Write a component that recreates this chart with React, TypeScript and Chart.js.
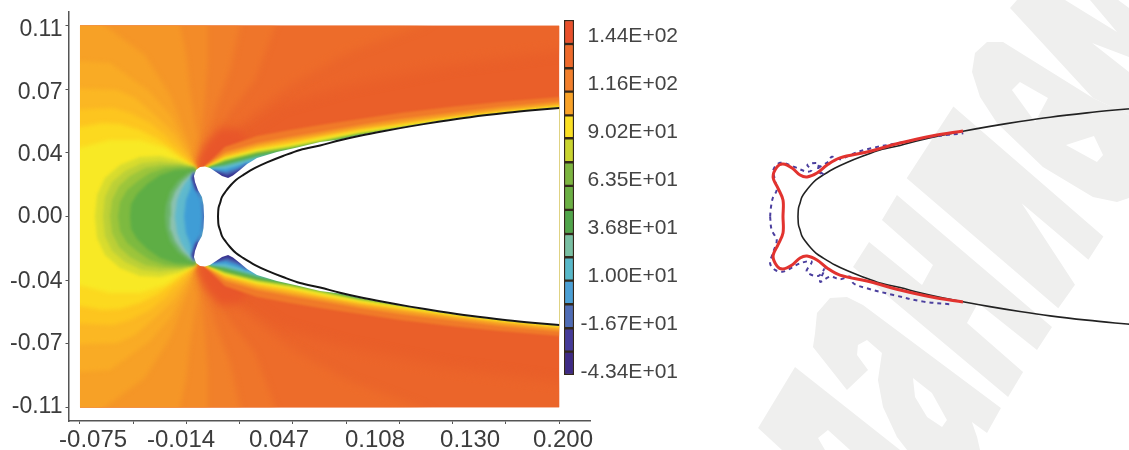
import React, { useEffect, useRef } from "react";
import { Chart, registerables } from "chart.js";

// Per-dataset softness: registered before the Filler so that fills pick it up too.
Chart.register({
  id: "softness",
  beforeDatasetDraw(c: any, args: any) {
    const b = c.data.datasets[args.index].blur;
    c.ctx.filter = b ? `blur(${b}px)` : "none";
  },
  afterDatasetDraw(c: any) { c.ctx.filter = "none"; },
} as any);
Chart.register(...registerables);

type Pt = number[];
const FONT = "'Liberation Sans', Arial, sans-serif";

// Axis ticks (flow coordinates, in mm; the labels read in metres as printed)
const xMarks = [-75, -44.4, -13.9, 16.7, 47.2, 77.8, 108.3, 138.9, 169.4, 200];
const xLabelAt = [-67.5, -17, 39.2, 94.3, 148.9, 202.2];
const xLabels = ["-0.075", "-0.014", "0.047", "0.108", "0.130", "0.200"];
const yMarks = [110, 73.3, 36.7, 0, -36.7, -73.3, -110];
const yLabelAt = [107.6, 71.3, 35.5, 0, -37.8, -73.3, -110];
const yLabels = ["0.11", "0.07", "0.04", "0.00", "-0.04", "-0.07", "-0.11"];

// Colour bar
const levelEdges = [152.9, 139.5, 126, 112.9, 99.7, 86.9, 73.5, 60.3, 46.9, 33.5, 20.5, 7.5, -5.7, -19.1, -32.2, -45.2];
const levelColors = ["#E9502B", "#EE6A2B", "#F27F2C", "#F9A227", "#FBE024", "#C9D42F", "#7CB540", "#6BB044", "#50A54B", "#79BFA3", "#58B8C9", "#4B9FD5", "#4F6CB5", "#453B99", "#3E2A85"];
const barTickValues = [144, 117.2, 90.2, 63.5, 36.8, 10, -16.7, -43.4];
const barTickLabels = ["1.44E+02", "1.16E+02", "9.02E+01", "6.35E+01", "3.68E+01", "1.00E+01", "-1.67E+01", "-4.34E+01"];

// Field: upper halves of contour regions (mirrored about y = 0), outermost first
const domain: Pt[] = [[208, 118], [-85, 118]];
const fan0: Pt[] = [[-9, 28.3], [5.4, 41.3], [39.8, 64.3], [80, 75.9], [137.4, 87.4], [208, 97], [208, 118], [-85, 118]];
const fan1: Pt[] = [[-9, 28.3], [2.5, 40.1], [19.7, 55.7], [45.5, 75.9], [80, 95], [120, 110], [132, 118], [-85, 118]];
const fan2: Pt[] = [[-9, 28.3], [-0.4, 41.3], [11.1, 60.3], [25.5, 78.8], [37, 110], [40, 118], [-85, 118]];
const fan3: Pt[] = [[-9, 28.3], [-3.3, 41.3], [2.5, 61.4], [11.1, 84.5], [16.8, 110], [18, 118], [-85, 118]];
const fan4: Pt[] = [[-9, 28.3], [-5.5, 44], [-3.3, 67.2], [-1.5, 90.3], [-1.5, 118], [-85, 118]];
const fan5: Pt[] = [[-9, 28.3], [-7.8, 47], [-11.9, 73], [-14, 93], [-17.6, 110], [-19, 118], [-85, 118]];
const fan6: Pt[] = [[-9, 28.3], [-11.9, 41.3], [-23.3, 70], [-37.7, 93], [-60.7, 110], [-72, 118], [-85, 118]];
const fan7: Pt[] = [[-9, 28.3], [-13.6, 40.1], [-23.3, 58.6], [-34.8, 71.8], [-57.8, 88.6], [-85, 90.3]];
const fan8: Pt[] = [[-9, 28.3], [-13.6, 36.6], [-20.5, 47], [-30.8, 57.4], [-43.4, 68.4], [-53.8, 73], [-85, 74.1]];
const fan9: Pt[] = [[-9, 28.3], [-17.6, 38.4], [-26.2, 47], [-34.8, 54], [-46.3, 59.7], [-56, 62.6], [-85, 61.4]];
const fan10: Pt[] = [[-9, 28.3], [-14.7, 32.6], [-21.6, 38.4], [-30.2, 44.7], [-40.6, 49.9], [-52, 53.4], [-61.8, 54], [-85, 49.9]];
const fan11: Pt[] = [[-9, 28.3], [-14.7, 31.4], [-26.2, 39.5], [-40.6, 44.1], [-57.8, 44.1], [-85, 37.2]];
const fans = [fan0, fan1, fan2, fan3, fan4, fan5, fan6, fan7, fan8, fan9, fan10, fan11];
const fanColors = ["#EB652A", "#ED6C2A", "#EF752A", "#F1802A", "#F38B28", "#F59627", "#F7A126", "#F9AB25", "#FBB723", "#FDC51F", "#FCD91F", "#F8E925"];
const fanSoftness = [6, 5, 3, 3, 2.5, 2.5, 2.5, 2, 2, 2, 2, 2];

// Bow regions: each closes behind the white gap, on the axis.
const arc1: Pt[] = [[-66.4, 0], [-65.2, 12.4], [-60.7, 22.2], [-52, 29.7], [-40.6, 34.3], [-29, 34.9], [-18.8, 32.6], [-9, 28.6], [-2, 0]];
const arc2: Pt[] = [[-61.8, 0], [-60.7, 11.3], [-56.6, 19.9], [-49.2, 26.3], [-39.4, 30.9], [-29, 32], [-18.8, 30.9], [-9, 28], [-2, 0]];
const arc3: Pt[] = [[-57.8, 0], [-56.6, 9.5], [-52.6, 17.6], [-46.3, 23.4], [-37.7, 28], [-28, 29.7], [-17.6, 29.7], [-9, 28], [-2, 0]];
const arc4: Pt[] = [[-53.2, 0], [-52, 8.4], [-48, 15.3], [-41.7, 20.5], [-34.8, 25.1], [-26.2, 28], [-16.5, 28.6], [-9, 27.8], [-2, 0]];
const arc5: Pt[] = [[-46.3, 0], [-45.7, 7.2], [-42.3, 13], [-36.5, 18.8], [-29, 23.9], [-20.5, 26.8], [-9, 27.5], [-2, 0]];
const arc6: Pt[] = [[-26.2, 0], [-25.6, 6.6], [-23.3, 14.1], [-18.8, 20.5], [-13, 25.1], [-9, 27], [-2, 0]];
const arc7: Pt[] = [[-23.3, 0], [-22.8, 7.8], [-20.5, 14.1], [-16.5, 19.9], [-11.9, 23.9], [-9, 26], [-2, 0]];
const arc8: Pt[] = [[-20.5, 0], [-19.3, 9.5], [-17, 15.3], [-14.2, 19.9], [-10.7, 23.9], [-9, 25.5], [-2, 0]];
const arc9: Pt[] = [[-15.3, 0], [-14.2, 9.5], [-11.9, 15.3], [-10.1, 22.2], [-9.2, 25], [-2, 0]];
const arc10: Pt[] = [[-4.6, 0], [-5.4, 9.5], [-9.6, 16.4], [-11.3, 22.2], [-10.1, 25.7], [-2, 0]];
const arcs = [arc1, arc2, arc3, arc4, arc5, arc6, arc7, arc8, arc9, arc10];
const arcColors = ["#D8DC2E", "#BCD037", "#9CC53B", "#7DBA40", "#5EAE45", "#6DB46B", "#8CC2B0", "#5FB9CD", "#3F9DD6", "#4A6DB6"];

const hotStreak: Pt[] = [[-8.4, 28.6], [-3.3, 41.3], [5.4, 51], [16.8, 50], [22.6, 39.5], [2.5, 29.7]];
const edgeNavy: Pt[] = [[-9.6, 25.7], [-10.7, 22.2], [-8.4, 15.3], [-6.7, 14.1], [-8, 22]];

// Shear-layer regions start behind the white gap, on the axis.
const shear1: Pt[] = [[3, 0], [-3.3, 29], [8.2, 40.1], [26.6, 46.4], [45.5, 49.9], [62.8, 52.8], [85.7, 56.3], [108.7, 59.7], [137.4, 63.2], [166.1, 66], [208, 69.6]];
const shear2: Pt[] = [[3, 0], [-3.3, 28.9], [8.2, 37.2], [26.6, 42.4], [45.5, 45.9], [62.8, 48.8], [85.7, 52.8], [108.7, 56.3], [137.4, 59.7], [166.1, 63.2], [208, 67]];
const shear3: Pt[] = [[3, 0], [-3.3, 28.6], [8.2, 35.5], [26.6, 40.7], [45.5, 44.1], [62.8, 47], [85.7, 51.1], [108.7, 54.2], [137.4, 58], [166.1, 61.4], [208, 65.5]];
const shear4: Pt[] = [[3, 0], [-2.7, 28.3], [8.2, 34], [26.6, 38.9], [45.5, 42.1], [62.8, 45.6], [85.7, 49.6], [108.7, 52.8], [137.4, 56.8], [166.1, 60.3], [208, 64.4]];
const shear5: Pt[] = [[3, 0], [-2.1, 28.3], [8.2, 33.2], [26.6, 37.8], [45.5, 40.7], [62.8, 44.1], [85.7, 48.5], [108.7, 51.6], [137.4, 56], [166.1, 59.4], [208, 63.5]];
const shear6: Pt[] = [[3, 0], [-1.5, 28.3], [8.2, 32], [26.6, 36.6], [45.5, 39.5], [62.8, 43], [85.7, 47.6], [108.7, 51.1], [137.4, 55.1], [166.1, 58.9], [208, 62.9]];
const shear7: Pt[] = [[3, 0], [-1, 28], [8.2, 30.3], [26.6, 35.2], [45.5, 38.4], [62.8, 42.1], [85.7, 47]];
const shear8: Pt[] = [[3, 0], [-0.4, 28], [8.2, 29.1], [16.8, 31.4], [26.6, 34], [45.5, 37.8], [62.8, 41.3]];
const shear9: Pt[] = [[3, 0], [0.2, 27.4], [8.2, 27.4], [16.8, 29.7], [26.6, 33.2]];
const shear10: Pt[] = [[3, 0], [0.8, 26.8], [8.8, 25.7], [15.7, 28], [20.9, 31]];
const shear11: Pt[] = [[3, 0], [1.9, 26.3], [9.4, 23.9], [14, 25.7], [18, 27.7]];
const shears = [shear1, shear2, shear3, shear4, shear5, shear6, shear7, shear8, shear9, shear10, shear11];
const shearColors = ["#F07A29", "#F59A26", "#FBBD20", "#F8E625", "#C3D52F", "#5EAE45", "#58B47A", "#5FB9CD", "#3F9DD6", "#4A6DB6", "#3A3491"];

const voidUpper: Pt[] = [[-3.8, 0], [-4.1, 6.6], [-5, 11.3], [-7.3, 15.3], [-9, 19.9], [-9.6, 23.4], [-8.4, 26.8], [-6.1, 28.6], [-3.3, 28.9], [-0.4, 28], [3.1, 25.7], [6.5, 23.4], [10, 22.2], [12.8, 23.7], [16.8, 26.8], [20.9, 30.3], [26.6, 33.8], [38, 37.2], [49.6, 39.8], [62.8, 43], [74.2, 44.5], [85.7, 47], [98.9, 49.6], [114.4, 52.4], [131.6, 55.2], [148.9, 57.7], [170.1, 60.2], [186.2, 61.8], [208, 63.6]];
const bodyUpper: Pt[] = [[4.2, 0], [4.5, 4.9], [5.4, 7.8], [6.5, 11.3], [8.8, 14.7], [11.1, 17.6], [14.5, 21.1], [18.6, 23.9], [25.5, 28], [32.3, 31.2], [41.5, 34.9], [51.3, 38.4], [62.8, 41], [74.2, 44], [85.7, 46.6], [98.9, 49.2], [114.4, 52], [131.6, 54.8], [148.9, 57.3], [170.1, 59.8], [186.2, 61.4], [200, 62.6], [206, 63.2]];

// Right panel: measured shock outlines
const redUpper: Pt[] = [[-4.4, 0], [-4.4, 9.5], [-7.3, 16.4], [-10.1, 22.8], [-7.8, 28.6], [-4.4, 30.3], [0.8, 28], [5.4, 23.9], [9.4, 22.8], [15.1, 25.1], [20.9, 29.7], [28.3, 33.8], [43.8, 37.2], [62.8, 42.4], [81.7, 46.6], [98.9, 49.3]];
const dashedUpper: Pt[] = [[-11.8, -0.1], [-11.4, 4.7], [-10.3, 10.5], [-8, 15.3], [-9, 21], [-9.9, 26.9], [-6.1, 31], [1.6, 28.8], [9.2, 25.9], [12.1, 26.9], [9.6, 29.7], [15.9, 30.7], [15.9, 26.9], [19.2, 24], [15, 26.9], [21.7, 31.7], [23.6, 34.5], [28.4, 33], [34.1, 35.5], [43.7, 38.8], [62.8, 42.6], [81.9, 46.1], [99.1, 48]];
const dashedLower: Pt[] = [[-11.8, -0.1], [-10.9, -7.8], [-8, -13.5], [-9.9, -20.3], [-11.8, -27], [-9, -30.8], [-4.2, -31.8], [5.4, -27], [12.1, -26], [9.2, -31.8], [15.9, -34.3], [19.7, -29.9], [16.9, -37.6], [22.6, -34.7], [28.4, -36.2], [34.1, -34.7], [36, -38.5], [43.7, -41.4], [59, -45.3], [76.2, -49.1], [91.5, -50.6]];

// Watermark letters behind the right panel
const wmA: Pt[] = [[-18.7, -122], [2.5, -86.8], [62.8, -134.7], [-5, -134.7]];
const wmB: Pt[] = [[14, -67.2], [15.1, -55.7], [22.6, -47], [32.3, -46.4], [41.5, -51], [120.7, -110.5], [112.7, -124.9], [104, -118.6], [107, -127.2], [108.7, -134.7], [66.8, -134.7], [61, -127.2], [53, -109.9], [50.1, -94.3], [52.4, -78.8], [43.8, -71.3], [38.6, -74.1], [38.1, -79.9], [44.4, -88.6], [32.3, -100.1], [12.8, -75.3]];
const wmC: Pt[] = [[35.8, -29.1], [45, -14.7], [75.4, -39.5], [81.7, -28], [52.4, -2], [61, 12.4], [150, -63.8], [141.4, -77], [107.5, -49.9], [101.2, -61.4], [133.4, -89.7], [124.8, -104.1]];
const wmE: Pt[] = [[66.6, 22], [93.4, 63.5], [179.5, -11.5], [170.9, -25], [132.6, 7.7], [163.2, -39.4], [153.6, -52.9]];
const wmF: Pt[] = [[104.1, 83.4], [105.8, 94.3], [112.7, 100.7], [121.9, 100.7], [173.5, 68.4], [194.2, 58.6], [194.2, 10.7], [187.3, 8.4], [173.5, 11.3], [144.8, 28.6], [118.4, 54], [108.7, 69]];
const wmG: Pt[] = [[125.9, 120.3], [129.9, 124.9], [194.2, 124.9], [194.2, 58.6], [173.5, 68.4]];
const wmHole1: Pt[] = [[15.7, -127.8], [21.4, -123.2], [34.1, -134.7], [19.7, -134.7]];
const wmHole2: Pt[] = [[70.2, -93.2], [81.1, -101.8], [89.7, -117.4], [86.9, -121.5], [78.3, -115.7], [71.4, -104.1]];
const wmHole3: Pt[] = [[127, 73], [131.6, 77.6], [147.7, 68.4], [140.3, 54.5]];
const wmHole4: Pt[] = [[158, 41.3], [174.1, 46.4], [179.3, 35.5], [175.8, 31.4]];
const wmHole5: Pt[] = [[157.5, 124.9], [171.8, 124.9], [187.3, 106.5]];
const wmHole6: Pt[] = [[173, 100.1], [194.2, 92], [194.2, 83.4]];
const wmHole7: Pt[] = [[188, 124.9], [194.2, 124.9], [194.2, 120.3]];
const watermark = [wmA, wmB, wmC, wmE, wmF, wmG];
const watermarkHoles = [wmHole1, wmHole2, wmHole3, wmHole4, wmHole5, wmHole6, wmHole7];

const flip = (p: Pt[]) => p.map(([x, y]) => [x, -y]);
const both = (p: Pt[]) => p.concat(flip(p).reverse());
const open = (p: Pt[]) => flip(p).reverse().concat(p);
const xy = (p: Pt[]) => p.map(([x, y]) => ({ x, y }));

const area = (p: Pt[], color: string, blur: number) => ({
  data: xy(p), showLine: true, fill: "shape", backgroundColor: color,
  borderWidth: 0, pointRadius: 0, tension: 0, blur,
});
const curve = (p: Pt[], color: string, width: number, blur: number, dash: number[] = []) => ({
  data: xy(p), showLine: true, fill: false, borderColor: color, borderWidth: width,
  borderDash: dash, pointRadius: 0, tension: 0.35, blur,
});

// Keeps the soft contour fills inside the plotted flow domain.
const domainClip = {
  id: "domainClip",
  beforeDatasetsDraw(c: any) {
    const { x, y } = c.scales;
    const l = x.getPixelForValue(-75), r = x.getPixelForValue(200);
    const t = y.getPixelForValue(110), b = y.getPixelForValue(-110);
    c.ctx.save();
    c.ctx.beginPath();
    c.ctx.rect(l, t, r - l, b - t);
    c.ctx.clip();
  },
  afterDatasetsDraw(c: any) { c.ctx.restore(); },
};

const tickAxis = (marks: number[], at: number[], labels: string[], size: number, padding: number) => {
  const text = new Map(at.map((v, i) => [v, labels[i]]));
  const markSet = new Set(marks);
  return {
    type: "linear",
    afterBuildTicks(s: any) {
      const all = Array.from(new Set([...marks, ...at])).sort((a, b) => a - b);
      s.ticks = all.map((value) => ({ value }));
    },
    ticks: {
      autoSkip: false, maxRotation: 0, minRotation: 0, padding, color: "#3c3c3c",
      font: { family: FONT, size },
      callback: (v: number) => text.get(v) ?? "",
    },
    grid: {
      display: true, drawOnChartArea: false, drawTicks: true, tickLength: 3, tickWidth: 1,
      tickColor: (ctx: any) => (markSet.has(ctx.tick?.value) ? "#555" : "rgba(0,0,0,0)"),
    },
    border: { display: true, color: "#555", width: 1.5 },
  };
};

export default function App() {
  const fieldRef = useRef<HTMLCanvasElement>(null);
  const barRef = useRef<HTMLCanvasElement>(null);
  const outlineRef = useRef<HTMLCanvasElement>(null);

  useEffect(() => {
    const paint: any[] = [
      area(both(domain), "#EA5F29", 0),
      ...fans.map((f, i) => area(both(f), fanColors[i], fanSoftness[i])),
      ...arcs.map((f, i) => area(both(f), arcColors[i], 1.5)),
      area(edgeNavy, "#3E3A95", 1),
      area(flip(edgeNavy), "#3E3A95", 1),
      area(hotStreak, "#E8562A", 4),
      area(flip(hotStreak), "#E8562A", 4),
      ...shears.map((f, i) => area(both(f), shearColors[i], 1)),
      area(both(voidUpper), "#FFFFFF", 0.7),
      curve(open(bodyUpper), "#161616", 2, 0.4),
    ];
    const xAxis: any = tickAxis(xMarks, xLabelAt, xLabels, 24, 2);
    const yAxis: any = tickAxis(yMarks, yLabelAt, yLabels, 23, 3);
    const field = new Chart(fieldRef.current!, {
      type: "scatter",
      data: { datasets: paint.slice().reverse() },
      options: {
        animation: false, responsive: false,
        layout: { padding: { left: 0, top: 12, right: 10, bottom: 0 } },
        plugins: { legend: { display: false }, tooltip: { enabled: false } },
        scales: {
          x: {
            ...xAxis, min: -81.6, max: 217.7,
            afterFit(s: any) { s.height = 29; s.paddingLeft = 0; s.paddingRight = 0; },
          },
          y: {
            ...yAxis, min: -118, max: 118,
            afterFit(s: any) { s.width = 68.5; s.paddingTop = 0; s.paddingBottom = 0; },
          },
        },
      } as any,
      plugins: [domainClip],
    } as any);

    const bar = new Chart(barRef.current!, {
      type: "bar",
      data: {
        labels: ["level"],
        datasets: levelColors.map((c, i) => ({
          data: [[levelEdges[i + 1], levelEdges[i]]],
          backgroundColor: c, borderColor: "#33281c", borderWidth: 1.5, borderSkipped: false,
          barPercentage: 1, categoryPercentage: 1, grouped: false,
        })),
      } as any,
      options: {
        animation: false, responsive: false,
        layout: { padding: { left: 8, top: 20, right: 0, bottom: 75 } },
        plugins: { legend: { display: false }, tooltip: { enabled: false } },
        scales: {
          x: { display: false },
          y: {
            position: "right", min: -45.2, max: 152.9,
            afterBuildTicks(s: any) { s.ticks = barTickValues.slice().reverse().map((value) => ({ value })); },
            afterFit(s: any) { s.width = 104; s.paddingTop = 0; s.paddingBottom = 0; },
            grid: { display: false, drawTicks: false },
            border: { display: false },
            ticks: {
              autoSkip: false, padding: 6, crossAlign: "far", color: "#444",
              font: { family: FONT, size: 21 },
              callback: (v: number) => barTickLabels[barTickValues.indexOf(v)] ?? "",
            },
          },
        },
      } as any,
    } as any);

    const outlinePaint: any[] = [
      ...watermark.map((w) => area(w, "#EFEFEE", 0.5)),
      ...watermarkHoles.map((w) => area(w, "#FFFFFF", 0.5)),
      curve(open(bodyUpper), "#222222", 1.6, 0.4),
      curve(dashedUpper, "#4B3F9E", 2, 0.3, [4, 4]),
      curve(dashedLower, "#4B3F9E", 2, 0.3, [4, 4]),
      curve(open(redUpper), "#E2332F", 3, 0.4),
    ];
    const outline = new Chart(outlineRef.current!, {
      type: "scatter",
      data: { datasets: outlinePaint.slice().reverse() },
      options: {
        animation: false, responsive: false,
        layout: { padding: 0 },
        plugins: { legend: { display: false }, tooltip: { enabled: false } },
        scales: {
          x: { type: "linear", display: false, min: -52.04, max: 194.2 },
          y: { type: "linear", display: false, min: -134.7, max: 124.9 },
        },
      } as any,
    } as any);

    return () => { field.destroy(); bar.destroy(); outline.destroy(); };
  }, []);

  const abs = (left: number, width: number): React.CSSProperties => ({ position: "absolute", left, top: 0, width, height: 450 });
  return (
    <div style={{ position: "fixed", left: 0, top: 0, width: 1129, height: 450, overflow: "hidden", background: "#fff" }}>
      <canvas ref={outlineRef} width={429} height={450} style={abs(700, 429)} />
      <canvas ref={fieldRef} width={600} height={450} style={abs(0, 600)} />
      <canvas ref={barRef} width={122} height={450} style={abs(556, 122)} />
    </div>
  );
}
